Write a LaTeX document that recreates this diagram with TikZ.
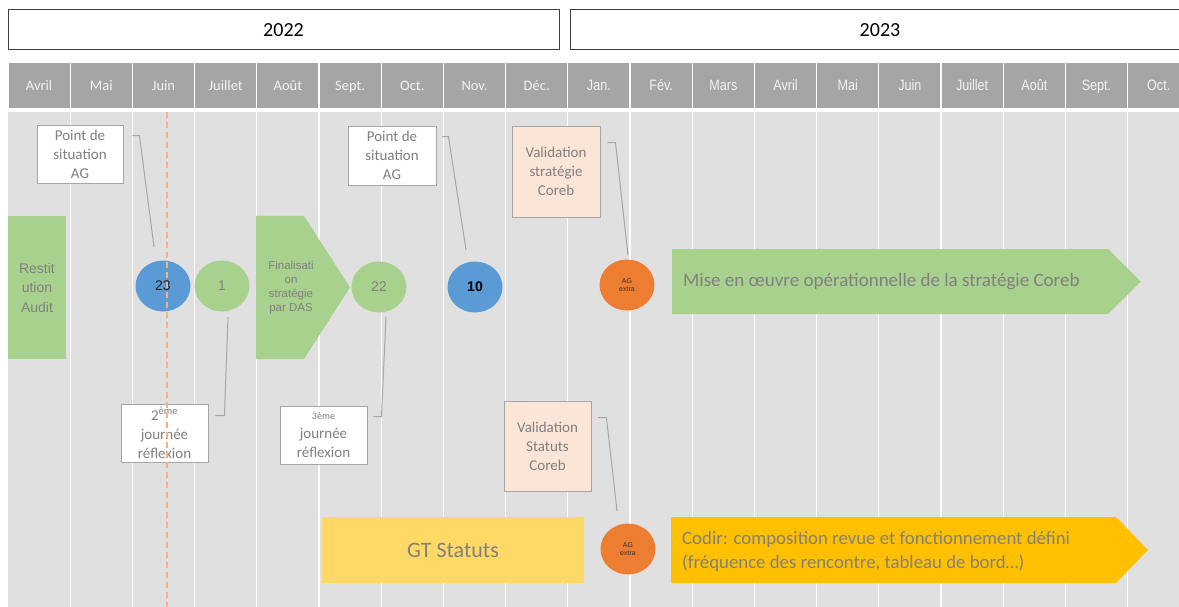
\documentclass[tikz,border=0pt]{standalone}
\usepackage{fontspec}
\setmainfont{Carlito}
\newfontfamily\arialfont{Liberation Sans}
\newfontfamily\narrowfont[FakeStretch=0.84]{Liberation Sans}
\usepackage{xcolor}
\usepackage{tikz}
\usetikzlibrary{positioning,arrows.meta,shapes.geometric}

\definecolor{bodygray}{HTML}{E0E0E0}
\definecolor{headgray}{HTML}{A5A5A5}
\definecolor{txtgray}{HTML}{808080}
\definecolor{linegray}{HTML}{A6A6A6}
\definecolor{leaf}{HTML}{A9D18E}
\definecolor{sky}{HTML}{5B9BD5}
\definecolor{carrot}{HTML}{ED7D31}
\definecolor{peach}{HTML}{FBE5D6}
\definecolor{butter}{HTML}{FFD966}
\definecolor{gold}{HTML}{FFC000}
\definecolor{dashorange}{HTML}{F4B183}

\tikzset{
  yearbox/.style={draw=black!75, line width=1pt, fill=white, minimum height=40pt, font=\fontsize{20}{24}\selectfont},
  monthcell/.style={draw=white, line width=1.2pt, fill=headgray, minimum width=62.2pt, minimum height=46pt,
                    text height=10.5pt, text depth=1pt, text=white!95!black, font=\fontsize{14.5}{16}\selectfont},
  dot/.style={ellipse, inner sep=0pt, minimum width=55pt, minimum height=51pt, font=\arialfont\fontsize{14}{16}\selectfont},
  notebox/.style={draw=linegray, line width=0.9pt, fill=white, align=center, inner sep=1pt, text=txtgray, font=\fontsize{15}{19}\selectfont},
  callout/.style={draw=linegray, line width=1pt},
}

\begin{document}
\begin{tikzpicture}[x=1pt,y=-1pt]
    \useasboundingbox[fill=white] (0,0) rectangle (1179,607);

    %
    \node[yearbox, minimum width=551pt] (y2022) at (283.5,30) {2022};
    \node[yearbox, minimum width=620pt] (y2023) at (880,30) {2023};

    %
    \foreach \i/\label in {0/Avril, 1/Mai, 2/Juin, 3/Juillet, 4/Août, 5/Sept., 6/Oct., 7/Nov., 8/Déc.} {
        \node[monthcell] (m\i) at ({39.1+62.2*\i},85.5) {\label};
    }
    \foreach \i/\label in {9/Jan., 10/Fév., 11/Mars, 12/Avril, 13/Mai, 14/Juin, 15/Juillet, 16/Août, 17/Sept., 18/Oct.} {
        \node[monthcell, font=\narrowfont\fontsize{15}{17}\selectfont] (m\i) at ({39.1+62.2*\i},85.5) {\label};
    }

    %
    \fill[bodygray] (8,112) rectangle (1179,607);
    \foreach \i in {1,...,18} {
        \draw[white, line width=1.3pt] ({8+62.2*\i},112) -- ({8+62.2*\i},607);
    }

    %
    \node[fill=leaf, minimum width=58pt, minimum height=143pt, inner sep=0pt, align=center, text=txtgray,
          font=\arialfont\fontsize{14}{19.5}\selectfont] (rest) at (37,287.5) {Restit\\ution\\Audit};

    \fill[leaf] (256,216) -- (304,216) -- (350,287.5) -- (304,359) -- (256,359) -- cycle;
    \node[align=center, text=txtgray, inner sep=0pt, font=\arialfont\fontsize{11.5}{14}\selectfont] (fin) at (291,288)
          {Finalisati\\on\\stratégie\\par DAS};

    \fill[leaf] (672,249) -- (1108,249) -- (1141,281.5) -- (1108,314) -- (672,314) -- cycle;
    \node[anchor=west, text=txtgray, inner sep=0pt, font=\fontsize{19}{23}\selectfont] (moe) at (683,282)
          {Mise en œuvre opérationnelle de la stratégie Coreb};

    \node[fill=butter, minimum width=262pt, minimum height=66pt, text=txtgray,
          font=\fontsize{22}{26}\selectfont] (gt) at (453,550) {GT Statuts};

    \fill[gold] (671,517) -- (1116,517) -- (1148,550) -- (1116,583) -- (671,583) -- cycle;
    \node[anchor=west, align=left, text=txtgray, inner sep=0pt, font=\fontsize{18.8}{24}\selectfont] (codir) at (682,551)
          {Codir: composition revue et fonctionnement défini\\(fréquence des rencontre, tableau de bord…)};

    %
    \node[dot, fill=sky, text=black!85] (c23) at (163,286) {23};
    \node[dot, fill=leaf, text=txtgray] (c1) at (222,286) {1};
    \node[dot, fill=leaf, text=txtgray] (c22) at (379,287) {22};
    \node[dot, fill=sky, text=black, font=\arialfont\bfseries\fontsize{14}{16}\selectfont] (c10) at (475,287) {10};
    \node[dot, fill=carrot, text=black!80, align=center, font=\arialfont\fontsize{7}{8}\selectfont] (ag1) at (627,285) {AG\\extra};
    \node[dot, fill=carrot, text=black!80, align=center, font=\arialfont\fontsize{7}{8}\selectfont] (ag2) at (628,549) {AG\\extra};

    %
    \node[notebox, minimum width=86pt, minimum height=58pt] (pa1) at (80,154) {Point de\\situation\\AG};
    \node[notebox, minimum width=88pt, minimum height=59pt] (pa2) at (392,155.5) {Point de\\situation\\AG};
    \node[notebox, fill=peach, minimum width=88pt, minimum height=91pt] (vs1) at (556,171.5) {Validation\\stratégie\\Coreb};
    \node[notebox, minimum width=87pt, minimum height=58pt] (j2) at (164.5,433) {2\textsuperscript{ème}\\journée\\réflexion};
    \node[notebox, minimum width=87pt, minimum height=58pt] (j3) at (323.5,435)
          {{\fontsize{10}{14}\selectfont 3ème}\\journée\\réflexion};
    \node[notebox, fill=peach, minimum width=87pt, minimum height=90pt] (vs2) at (547.5,446) {Validation\\Statuts\\Coreb};

    %
    \draw[callout] ([xshift=9pt,yshift=-11pt]pa1.north east) -- ++(7,0) -- ([xshift=-9pt,yshift=13.5pt]c23.north);
    \draw[callout] ([xshift=6pt,yshift=-11pt]pa2.north east) -- ++(6,0) -- ([xshift=-9pt,yshift=11.5pt]c10.north);
    \draw[callout] ([xshift=7pt,yshift=-17pt]vs1.north east) -- ++(8,0) -- ([xshift=1pt,yshift=4pt]ag1.north);
    \draw[callout] ([xshift=7pt,yshift=-12pt]j2.north east) -- ++(9,0) -- ([xshift=6pt,yshift=-5.5pt]c1.south);
    \draw[callout] ([xshift=6pt,yshift=-11pt]j3.north east) -- ++(8,0) -- ([xshift=7pt,yshift=-4pt]c22.south);
    \draw[callout] ([xshift=7pt,yshift=-17pt]vs2.north east) -- ++(8,0) -- ([xshift=-11pt,yshift=12.5pt]ag2.north);

    %
    \coordinate (today) at (167,112);
    \coordinate (todayend) at (167,607);
    \draw[dashorange, line width=1.2pt, dash pattern=on 6pt off 4pt] (today) -- (todayend);
\end{tikzpicture}
\end{document}
